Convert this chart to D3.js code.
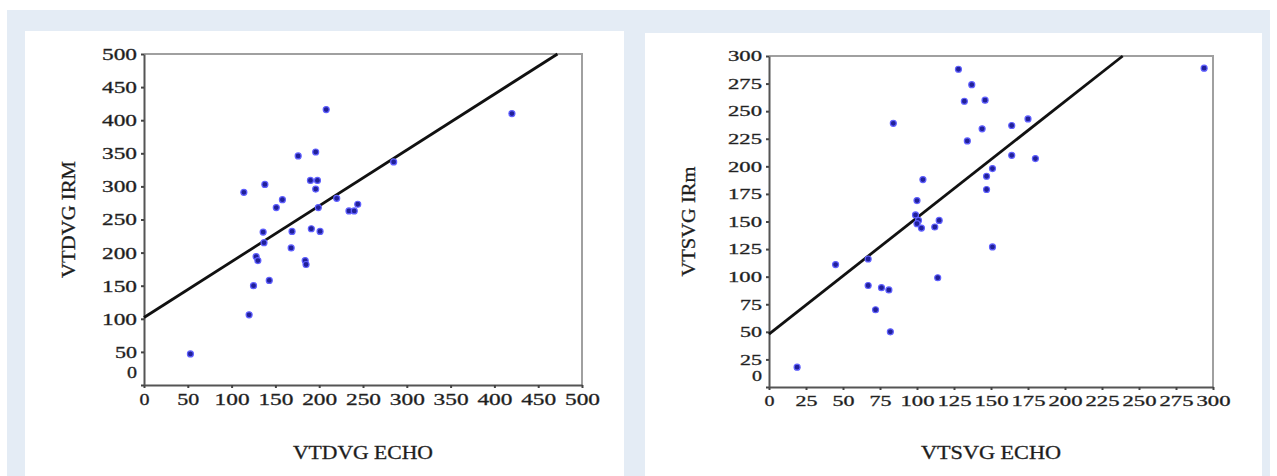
<!DOCTYPE html>
<html>
<head>
<meta charset="utf-8">
<script src="https://cdn.jsdelivr.net/npm/d3@7"></script>
<style>
body { margin:0; background:#fff; }
text { font-family:"Liberation Serif","Times New Roman",serif; fill:#1a1a1a; stroke:#333; stroke-width:0.35px; }
</style>
</head>
<body>
<div class="container"></div>
<script>
// left chart: VTDVG echo vs IRM
var tdEcho = [53,114,120,125,128,130,138,136,137,143,151,158,168,169,176,184,185,190,191,196,198,196,201,199,208,220,234,240,244,285,420];
var tdIrm  = [47,291,106,150,194,188,303,231,215,158,268,280,207,232,346,188,182,309,236,352,309,296,232,268,416,282,263,263,273,337,410];
var tdFitX = [0,472];
var tdFitY = [102,500];
var tdTicks = [0,50,100,150,200,250,300,350,400,450,500];

// right chart: VTSVG echo vs IRm
var tsEcho = [19,45,67,67,72,76,81,82,84,100,99,101,100,103,104,112,115,114,128,132,134,137,144,146,147,147,151,151,164,164,175,180,294];
var tsIrm  = [18,111,92,116,70,90,88,50,239,169,156,151,148,144,188,145,151,99,288,259,223,274,234,260,191,179,198,127,237,210,243,207,289];
var tsFitX = [0,239];
var tsFitY = [48,300];
var tsTicks = [0,25,50,75,100,125,150,175,200,225,250,275,300];

function makeStage(w,h) {
	var stage = d3.select(".container")
		.insert("svg")
		.attr("width",w)
		.attr("height",h);
	stage.append("rect").attr("x",7).attr("y",10).attr("width",1263).attr("height",h-10).style("fill","#e4ecf5");
	return stage;
}

function labelWidth(s, big) {
	var n = String(s).length;
	if (n == 1) return 10;
	if (n == 2) return 22;
	return big ? 35 : 34;
}

function drawPanel(stage, p) {
	stage.append("rect")
		.attr("x",p.px).attr("y",p.py).attr("width",p.pw).attr("height",476-p.py)
		.style("fill","#fff");

	var x = d3.scaleLinear().domain([0,p.max]).range([p.x0,p.x1]);
	var y = d3.scaleLinear().domain([0,p.max]).range([p.y0,p.y1]);

	// frame top + right
	stage.append("path")
		.attr("d","M"+p.x0+","+p.y1+"H"+p.x1+"V"+p.y0)
		.style("fill","none").style("stroke","#a0a0a0").style("stroke-width","2px");

	var xa = stage.append("g")
		.attr("transform","translate(0,"+p.y0+")")
		.call(d3.axisBottom(x).tickValues(p.ticks).tickSize(3).tickPadding(5).tickSizeOuter(0));
	var ya = stage.append("g")
		.attr("transform","translate("+p.x0+",0)")
		.call(d3.axisLeft(y).tickValues(p.ticks).tickSize(3).tickPadding(4).tickSizeOuter(0));

	[xa,ya].forEach(function(a) {
		a.select(".domain").style("stroke","#555").style("stroke-width","2px");
		a.selectAll(".tick line").style("stroke","#444").style("stroke-width","2px");
		a.selectAll("text")
			.style("font-family","Liberation Serif")
			.style("font-size",p.fs+"px")
			.style("fill","#1a1a1a")
			.attr("textLength",function(d){ return labelWidth(d,p.big); })
			.attr("lengthAdjust","spacingAndGlyphs");
	});
	// zero label on y sits a bit higher
	ya.selectAll(".tick").filter(function(d){ return d == 0; })
		.select("text").attr("dy","-0.45em");

	// fit line
	var pts = p.fx.map(function(v,i){ return [v,p.fy[i]]; });
	stage.append("path")
		.datum(pts)
		.attr("d",d3.line().x(function(d){return x(d[0]);}).y(function(d){return y(d[1]);}))
		.style("fill","none").style("stroke","#111").style("stroke-width","2.8px");

	// dots
	stage.append("g").selectAll("circle")
		.data(p.ex)
		.enter().append("circle")
		.attr("cx",function(d){ return x(d); })
		.attr("cy",function(d,i){ return y(p.ey[i]); })
		.attr("r",3)
		.style("fill","#20209a")
		.style("stroke","#6060ff")
		.style("stroke-width","1.2px");

	stage.append("text")
		.attr("x",(p.x0+p.x1)/2).attr("y",459)
		.attr("text-anchor","middle")
		.attr("textLength",140).attr("lengthAdjust","spacingAndGlyphs")
		.style("font-size","19px")
		.text(p.xt);
	stage.append("text")
		.attr("transform","translate("+p.ytx+","+((p.y0+p.y1)/2)+") rotate(-90)")
		.attr("text-anchor","middle")
		.attr("textLength",p.ytl).attr("lengthAdjust","spacingAndGlyphs")
		.style("font-size","18px")
		.text(p.yt);
}

var mystage = makeStage(1277,476);

drawPanel(mystage, {px:25, py:31, pw:599, x0:144, x1:582, y0:385, y1:54, max:500,
	ticks:tdTicks, ex:tdEcho, ey:tdIrm, fx:tdFitX, fy:tdFitY, fs:17, big:true,
	xt:"VTDVG ECHO", yt:"VTDVG IRM", ytx:75, ytl:117});

drawPanel(mystage, {px:645, py:33, pw:617, x0:769, x1:1213, y0:387, y1:56, max:300,
	ticks:tsTicks, ex:tsEcho, ey:tsIrm, fx:tsFitX, fy:tsFitY, fs:15, big:false,
	xt:"VTSVG ECHO", yt:"VTSVG IRm", ytx:695, ytl:110});
</script>
</body>
</html>
